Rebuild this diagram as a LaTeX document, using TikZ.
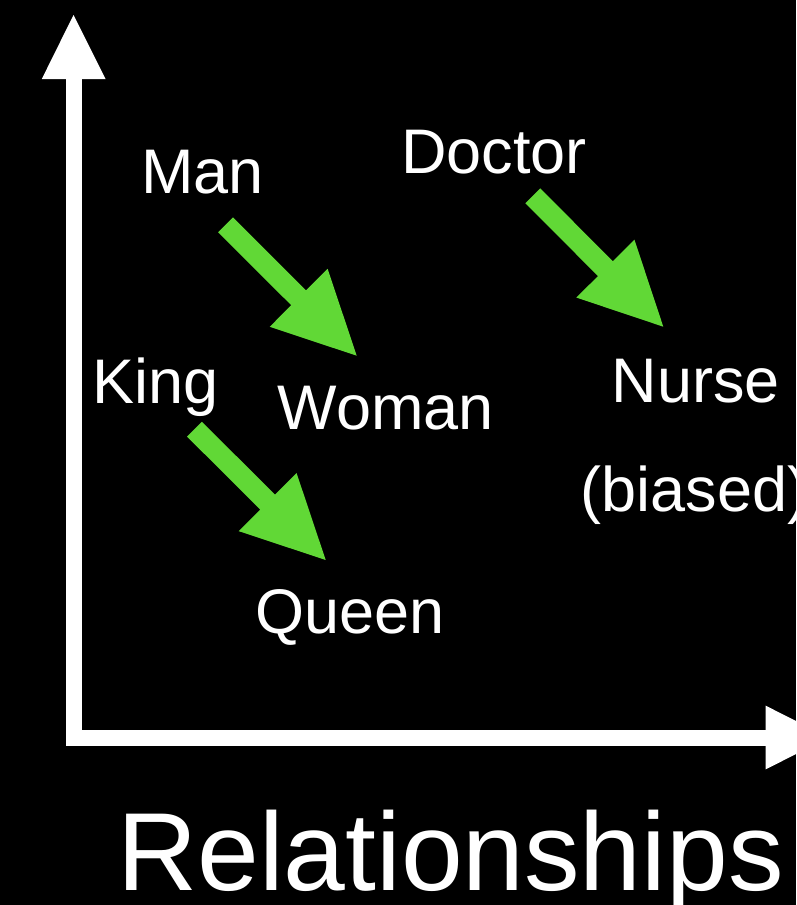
\documentclass[tikz,border=0pt]{standalone}
\usepackage{fontspec}
\setmainfont{Liberation Sans}
\usetikzlibrary{calc}
\definecolor{arrowgreen}{RGB}{97,216,54}
\newcommand{\fatarrow}[2]{%
  \coordinate (#1-b) at ($(#2)!82pt!(#1)$);
  \fill[arrowgreen] ($(#1)!10.5pt!-90:(#2)$) -- ($(#1-b)!10.5pt!-90:(#2)$) --
    ($(#1-b)!41pt!-90:(#2)$) -- (#2) -- ($(#1-b)!41pt!90:(#2)$) --
    ($(#1-b)!10.5pt!90:(#2)$) -- ($(#1)!10.5pt!90:(#2)$) -- cycle;
}
\tikzset{
  lbl/.style={text=white, inner sep=0pt, anchor=base, font=\fontsize{63}{70}\selectfont},
  biglbl/.style={text=white, inner sep=0pt, anchor=base, font=\fontsize{111}{120}\selectfont},
  axisline/.style={white, line width=16pt, line join=miter},
}
\begin{document}
\begin{tikzpicture}[x=1pt, y=-1pt]
\useasboundingbox (0,0) rectangle (796,905);
\clip (0,0) rectangle (796,905);
\fill[black] (0,0) rectangle (796,905);
% axes
\coordinate (yend) at (73.5,79);
\coordinate (origin) at (73.5,737.5);
\coordinate (xend) at (765.7,737.5);
\coordinate (ytip) at (73.5,15);
\coordinate (xtip) at (829,737.5);
\draw[axisline] (yend) -- (origin) -- (xend);
\fill[white] ($(yend)+(-31.7,0)$) -- (ytip) -- ($(yend)+(32,0)$) -- cycle;
\fill[white] ($(xend)+(0,-31.8)$) -- (xtip) -- ($(xend)+(0,31.8)$) -- cycle;
% labels
\node[lbl] (man) at (202.5,193.3) {Man};
\node[lbl] (doctor) at (494.2,173.3) {Doctor};
\node[lbl] (king) at (155.8,403.3) {King};
\node[lbl] (woman) at (385.8,429.3) {Woman};
\node[lbl] (nurse) at (695.8,402.7) {Nurse};
\node[lbl, anchor=base west] (biased) at (580.5,511.7) {(biased)};
\node[lbl] (queen) at (350,633.3) {Queen};
\node[biglbl] (xlabel) at (450.5,890.7) {Relationships};
% green arrows
\coordinate (man-s) at (225.5,224.8);
\coordinate (man-t) at (356.7,355.7);
\coordinate (doc-s) at (532.8,195.8);
\coordinate (doc-t) at (663.3,326.7);
\coordinate (king-s) at (194.5,429.2);
\coordinate (king-t) at (325.7,560);
\fatarrow{man-s}{man-t}
\fatarrow{doc-s}{doc-t}
\fatarrow{king-s}{king-t}
\end{tikzpicture}
\end{document}
